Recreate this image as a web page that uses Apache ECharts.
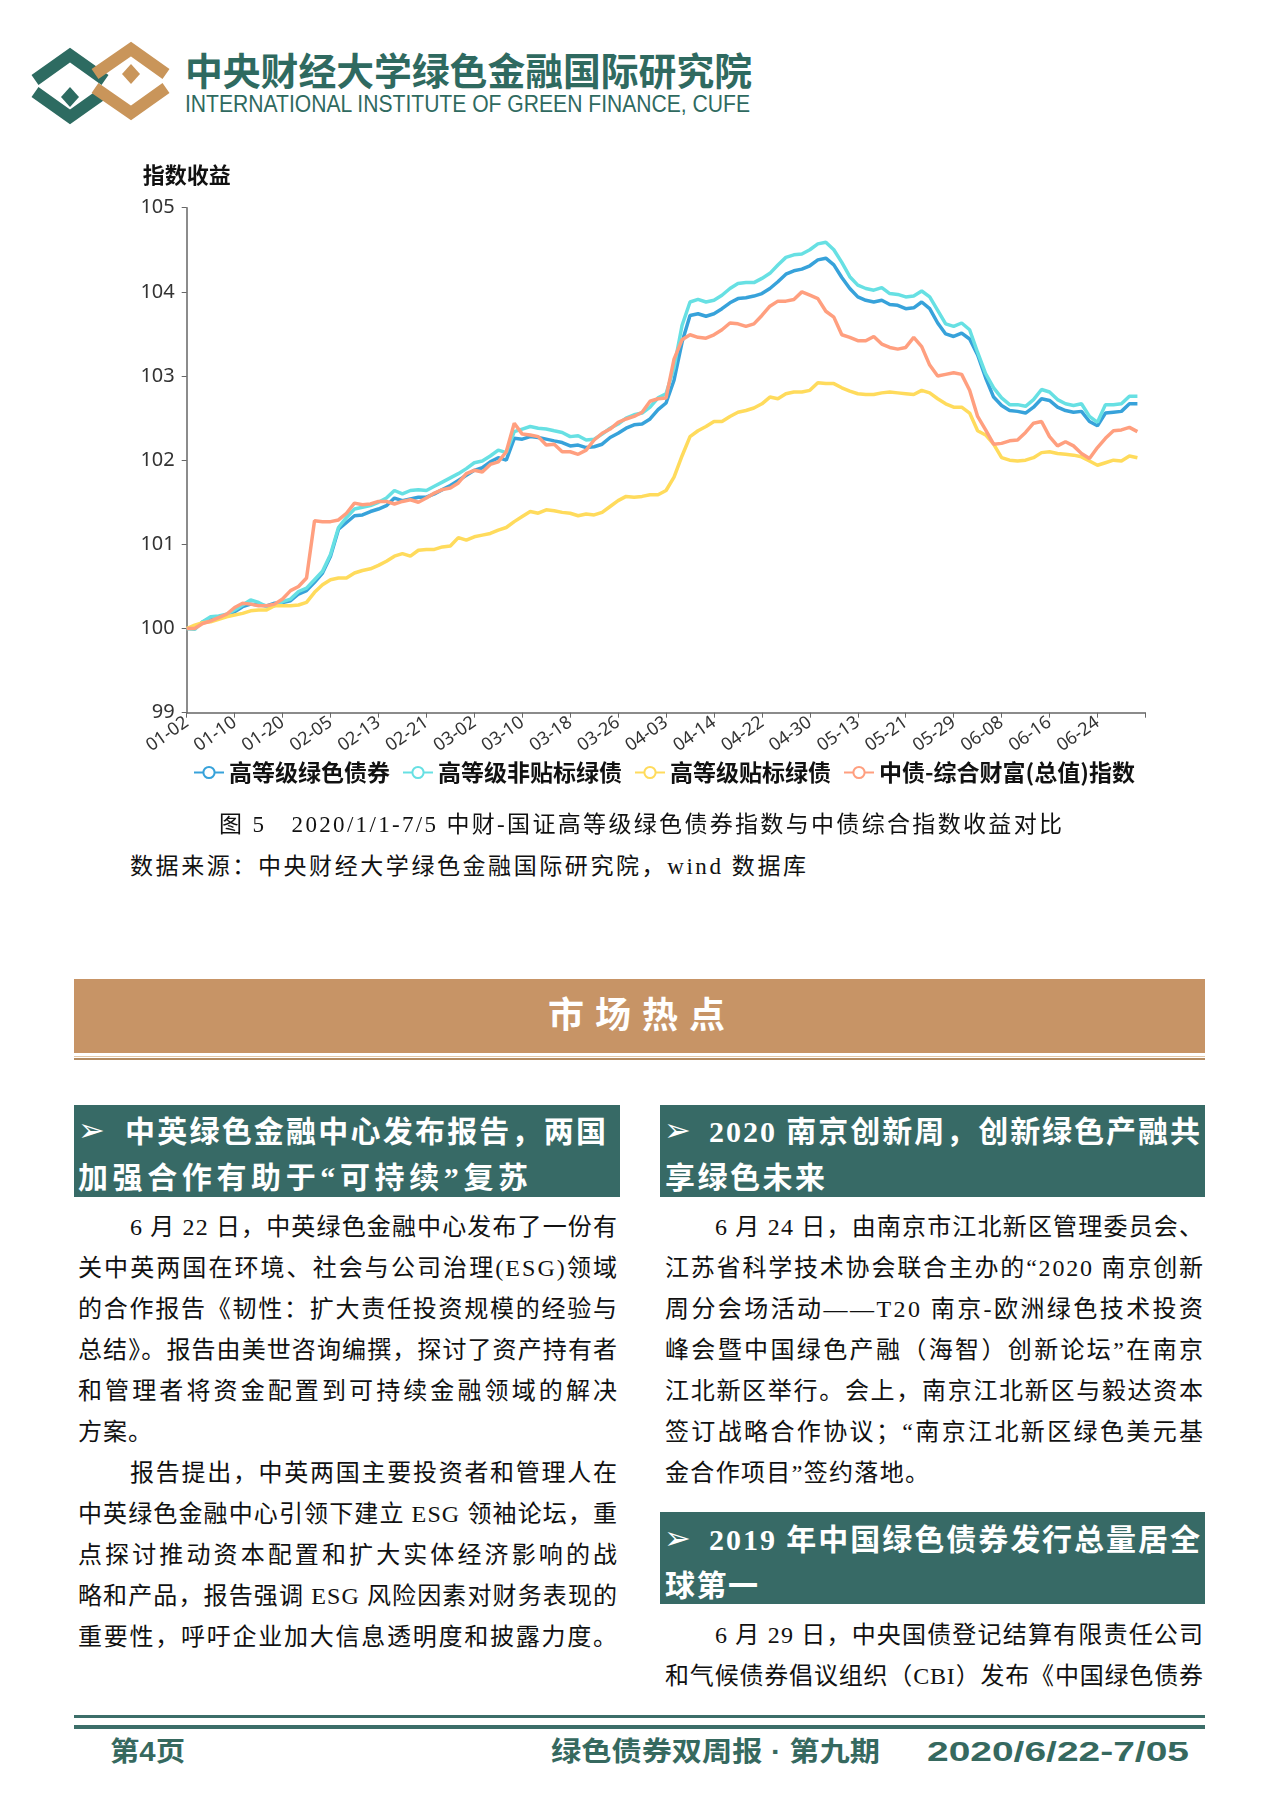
<!DOCTYPE html>
<html><head><meta charset="utf-8">
<script src="https://cdn.jsdelivr.net/npm/echarts@6/dist/echarts.min.js"></script>
<style>
html,body{margin:0;padding:0;background:#fff;}
body{width:1280px;height:1810px;position:relative;overflow:hidden;font-family:"Liberation Serif","Noto Sans CJK SC",serif;}
.a{position:absolute;white-space:nowrap;line-height:1;}
.box{position:absolute;background:#376a66;}
.hl{color:#fff;font-weight:bold;font-size:30px;}
.ar{color:#fff;font-size:32px;font-family:'DejaVu Sans';}
.bl{color:#111;font-size:24px;}
.ft{color:#36695f;font-weight:bold;font-size:27px;font-family:"Liberation Sans","Noto Sans CJK SC",sans-serif;transform-origin:0 50%;}
</style></head>
<body>
<svg class="a" style="left:0;top:0" width="200" height="140" viewBox="0 0 200 140">
  <g fill="none" stroke-width="12" stroke-linejoin="miter">
    <polyline points="35,80 70,55 105,80" stroke="#2d6b61"/>
    <polyline points="95,74 131,49 166,74" stroke="#c9955a"/>
    <polyline points="35,92 70,117 105,92" stroke="#2d6b61"/>
    <polyline points="95,88 131,113 166,88" stroke="#c9955a"/>
  </g>
  <polygon points="131,64 140,74 131,84 122,74" fill="#c9955a"/>
  <polygon points="70,87 79,97 70,107 61,97" fill="#2d6b61"/>
</svg>
<div class="a fit-sx" data-w="567" style="left:185px;top:50px;font-size:38px;font-weight:bold;color:#2f6a60;font-family:'Noto Sans CJK SC';transform-origin:0 50%;">中央财经大学绿色金融国际研究院</div>
<div class="a fit-sx" data-w="565" style="left:185px;top:92px;font-size:24px;color:#2f6a60;font-family:'Liberation Sans Narrow','Liberation Sans';transform-origin:0 50%;">INTERNATIONAL INSTITUTE OF GREEN FINANCE, CUFE</div>

<div id="chart" style="position:absolute;left:0;top:150px;width:1280px;height:670px;"></div>

<div class="a bl fit-ls" data-w="843" style="left:219px;top:813px;font-size:23px;">图 5　2020/1/1-7/5 中财-国证高等级绿色债券指数与中债综合指数收益对比</div>
<div class="a bl fit-ls" data-w="676" style="left:130px;top:855px;font-size:23px;">数据来源：中央财经大学绿色金融国际研究院，wind 数据库</div>

<div class="box" style="left:74px;top:979px;width:1131px;height:74px;background:#c79466;"></div>
<div class="box" style="left:74px;top:1056px;width:1131px;height:1px;background:#e2c8aa;"></div>
<div class="box" style="left:74px;top:1058px;width:1131px;height:2px;background:#b48c62;"></div>
<div class="a fit-ls" data-w="177" style="left:548px;top:994px;font-size:36px;color:#fff;font-weight:bold;font-family:'Noto Sans CJK SC';">市场热点</div>

<!-- left header box -->
<div class="box" style="left:74px;top:1105px;width:546px;height:92px;"></div>
<div class="a ar" style="left:78px;top:1114px;">➢</div>
<div class="a hl fit-ls" data-w="481" style="left:125px;top:1117px;">中英绿色金融中心发布报告，两国</div>
<div class="a hl fit-ls" data-w="450" style="left:78px;top:1163px;">加强合作有助于“可持续”复苏</div>

<!-- right header box -->
<div class="box" style="left:660px;top:1105px;width:545px;height:92px;"></div>
<div class="a ar" style="left:664px;top:1114px;">➢</div>
<div class="a hl fit-ls" data-w="491" style="left:709px;top:1117px;">2020 南京创新周，创新绿色产融共</div>
<div class="a hl fit-ls" data-w="160" style="left:665px;top:1163px;">享绿色未来</div>

<!-- left body -->
<div class="a bl fit-ls" data-w="487" style="left:130px;top:1215px;">6 月 22 日，中英绿色金融中心发布了一份有</div>
<div class="a bl fit-ls" data-w="539" style="left:78px;top:1256px;">关中英两国在环境、社会与公司治理(ESG)领域</div>
<div class="a bl fit-ls" data-w="539" style="left:78px;top:1297px;">的合作报告《韧性：扩大责任投资规模的经验与</div>
<div class="a bl fit-ls" data-w="539" style="left:78px;top:1338px;">总结》。报告由美世咨询编撰，探讨了资产持有者</div>
<div class="a bl fit-ls" data-w="539" style="left:78px;top:1379px;">和管理者将资金配置到可持续金融领域的解决</div>
<div class="a bl fit-ls" data-w="74" style="left:78px;top:1420px;">方案。</div>
<div class="a bl fit-ls" data-w="487" style="left:130px;top:1461px;">报告提出，中英两国主要投资者和管理人在</div>
<div class="a bl fit-ls" data-w="539" style="left:78px;top:1502px;">中英绿色金融中心引领下建立 ESG 领袖论坛，重</div>
<div class="a bl fit-ls" data-w="539" style="left:78px;top:1543px;">点探讨推动资本配置和扩大实体经济影响的战</div>
<div class="a bl fit-ls" data-w="539" style="left:78px;top:1584px;">略和产品，报告强调 ESG 风险因素对财务表现的</div>
<div class="a bl fit-ls" data-w="539" style="left:78px;top:1625px;">重要性，呼吁企业加大信息透明度和披露力度。</div>

<!-- right body -->
<div class="a bl fit-ls" data-w="488" style="left:715px;top:1215px;">6 月 24 日，由南京市江北新区管理委员会、</div>
<div class="a bl fit-ls" data-w="538" style="left:665px;top:1256px;">江苏省科学技术协会联合主办的“2020 南京创新</div>
<div class="a bl fit-ls" data-w="538" style="left:665px;top:1297px;">周分会场活动——T20 南京-欧洲绿色技术投资</div>
<div class="a bl fit-ls" data-w="538" style="left:665px;top:1338px;">峰会暨中国绿色产融（海智）创新论坛”在南京</div>
<div class="a bl fit-ls" data-w="538" style="left:665px;top:1379px;">江北新区举行。会上，南京江北新区与毅达资本</div>
<div class="a bl fit-ls" data-w="538" style="left:665px;top:1420px;">签订战略合作协议；“南京江北新区绿色美元基</div>
<div class="a bl fit-ls" data-w="264" style="left:665px;top:1461px;">金合作项目”签约落地。</div>

<div class="box" style="left:660px;top:1512px;width:545px;height:92px;"></div>
<div class="a ar" style="left:664px;top:1522px;">➢</div>
<div class="a hl fit-ls" data-w="491" style="left:709px;top:1525px;">2019 年中国绿色债券发行总量居全</div>
<div class="a hl fit-ls" data-w="93" style="left:665px;top:1571px;">球第一</div>
<div class="a bl fit-ls" data-w="488" style="left:715px;top:1623px;">6 月 29 日，中央国债登记结算有限责任公司</div>
<div class="a bl fit-ls" data-w="538" style="left:665px;top:1664px;">和气候债券倡议组织（CBI）发布《中国绿色债券</div>

<!-- footer -->
<div class="box" style="left:74px;top:1715px;width:1131px;height:3px;background:#3c6e69;"></div>
<div class="box" style="left:74px;top:1725px;width:1131px;height:4px;background:#3c6e69;"></div>
<div class="a ft fit-sx" data-w="75" style="left:110px;top:1739px;">第4页</div>
<div class="a ft fit-sx" data-w="329" style="left:551px;top:1739px;">绿色债券双周报 · 第九期</div>
<div class="a ft fit-sx" data-w="262" style="left:927px;top:1739px;">2020/6/22-7/05</div>

<script>
// ---- data ----
const dates = ['01-02','01-03','01-06','01-07','01-08','01-09','01-10','01-13','01-14','01-15',
'01-16','01-17','01-20','01-21','01-22','01-23','02-03','02-04','02-05','02-06',
'02-07','02-10','02-11','02-12','02-13','02-14','02-17','02-18','02-19','02-20',
'02-21','02-24','02-25','02-26','02-27','02-28','03-02','03-03','03-04','03-05',
'03-06','03-09','03-10','03-11','03-12','03-13','03-16','03-17','03-18','03-19',
'03-20','03-23','03-24','03-25','03-26','03-27','03-30','03-31','04-01','04-02',
'04-03','04-07','04-08','04-09','04-10','04-13','04-14','04-15','04-16','04-17',
'04-20','04-21','04-22','04-23','04-24','04-27','04-28','04-29','04-30','05-06',
'05-07','05-08','05-11','05-12','05-13','05-14','05-15','05-18','05-19','05-20',
'05-21','05-22','05-25','05-26','05-27','05-28','05-29','06-01','06-02','06-03',
'06-04','06-05','06-08','06-09','06-10','06-11','06-12','06-15','06-16','06-17',
'06-18','06-19','06-22','06-23','06-24','06-29','06-30','07-01','07-02','07-03','07-05'];

const seriesNames = ['高等级绿色债券','高等级非贴标绿债','高等级贴标绿债','中债-综合财富(总值)指数'];

const greenBond = [100.00,100.00,100.08,100.11,100.13,100.15,100.20,100.26,100.29,100.28,
100.27,100.30,100.31,100.33,100.41,100.45,100.55,100.66,100.86,101.18,
101.26,101.34,101.35,101.39,101.42,101.46,101.55,101.52,101.54,101.56,
101.56,101.60,101.65,101.70,101.76,101.82,101.88,101.91,101.98,102.03,
102.00,102.26,102.25,102.28,102.27,102.25,102.23,102.21,102.17,102.18,
102.15,102.16,102.19,102.27,102.32,102.38,102.42,102.43,102.49,102.60,
102.68,102.95,103.40,103.72,103.74,103.71,103.74,103.80,103.87,103.92,
103.93,103.95,103.98,104.04,104.12,104.21,104.25,104.27,104.31,104.38,
104.40,104.32,104.17,104.04,103.94,103.90,103.88,103.90,103.85,103.84,
103.80,103.81,103.88,103.80,103.63,103.50,103.47,103.51,103.44,103.25,
102.98,102.75,102.65,102.59,102.58,102.56,102.63,102.73,102.71,102.63,
102.59,102.57,102.58,102.46,102.41,102.56,102.57,102.58,102.67,102.67];

const unlabeled = [100.00,99.99,100.08,100.14,100.15,100.17,100.22,100.28,100.34,100.31,
100.26,100.27,100.32,100.35,100.44,100.48,100.58,100.68,100.88,101.20,
101.32,101.42,101.44,101.46,101.50,101.55,101.64,101.60,101.64,101.65,
101.64,101.69,101.74,101.79,101.84,101.90,101.97,101.99,102.05,102.12,
102.09,102.34,102.37,102.40,102.38,102.37,102.35,102.33,102.28,102.29,
102.24,102.25,102.31,102.38,102.43,102.50,102.54,102.56,102.63,102.74,
102.79,103.10,103.60,103.88,103.91,103.88,103.90,103.96,104.04,104.10,
104.11,104.11,104.16,104.22,104.32,104.41,104.44,104.45,104.50,104.57,
104.59,104.50,104.35,104.18,104.08,104.04,104.02,104.05,103.98,103.97,
103.94,103.95,104.01,103.94,103.78,103.62,103.59,103.63,103.55,103.28,
103.03,102.86,102.74,102.66,102.66,102.64,102.72,102.84,102.81,102.72,
102.67,102.65,102.67,102.52,102.45,102.66,102.66,102.67,102.76,102.76];

const labeled = [100.00,100.04,100.07,100.08,100.11,100.14,100.16,100.18,100.21,100.22,
100.22,100.27,100.27,100.27,100.28,100.31,100.43,100.52,100.58,100.60,
100.60,100.66,100.69,100.71,100.75,100.80,100.86,100.89,100.86,100.93,
100.94,100.94,100.97,100.98,101.08,101.05,101.09,101.11,101.13,101.17,
101.20,101.27,101.33,101.39,101.37,101.41,101.40,101.38,101.37,101.34,
101.36,101.35,101.38,101.45,101.52,101.57,101.56,101.57,101.59,101.59,
101.64,101.80,102.05,102.28,102.35,102.40,102.46,102.46,102.52,102.57,
102.59,102.62,102.67,102.75,102.73,102.79,102.81,102.81,102.83,102.92,
102.91,102.91,102.86,102.82,102.79,102.78,102.78,102.80,102.81,102.80,
102.79,102.78,102.83,102.80,102.73,102.67,102.63,102.63,102.56,102.35,
102.30,102.19,102.03,102.00,101.99,102.00,102.03,102.09,102.10,102.08,
102.07,102.06,102.04,101.99,101.94,101.97,102.00,101.99,102.05,102.03];

const chinaBond = [100.00,100.00,100.06,100.09,100.13,100.17,100.25,100.30,100.29,100.27,
100.27,100.29,100.35,100.45,100.50,100.60,101.28,101.27,101.27,101.29,
101.37,101.49,101.47,101.48,101.51,101.51,101.48,101.51,101.53,101.50,
101.55,101.61,101.65,101.67,101.73,101.84,101.88,101.86,101.95,101.98,
102.10,102.44,102.31,102.30,102.28,102.18,102.19,102.10,102.10,102.07,
102.12,102.24,102.32,102.37,102.45,102.49,102.52,102.57,102.70,102.73,
102.74,103.20,103.43,103.49,103.46,103.45,103.49,103.55,103.63,103.62,
103.59,103.62,103.72,103.83,103.89,103.89,103.91,104.00,103.96,103.92,
103.77,103.70,103.49,103.46,103.42,103.42,103.47,103.38,103.34,103.32,
103.34,103.46,103.35,103.13,103.00,103.02,103.04,103.02,102.83,102.52,
102.36,102.19,102.20,102.23,102.24,102.33,102.44,102.46,102.28,102.17,
102.22,102.17,102.08,102.02,102.15,102.26,102.35,102.36,102.39,102.34];

const colors = ['#37A2DA','#67E0E3','#FFDB5C','#FF9F7F'];
const values = [greenBond, unlabeled, labeled, chinaBond];

const chart = echarts.init(document.getElementById('chart'), null, {renderer:'canvas'});
chart.setOption({
  animation:false,
  color: colors,
  grid:{left:186.7, right:134.6, top:57.7, bottom:107.3},
  legend:{
    left:188, top:606, itemWidth:30, itemHeight:14, itemGap:12,
    textStyle:{fontSize:23, fontWeight:'bold', color:'#111', fontFamily:'Noto Sans CJK SC'},
    data: seriesNames
  },
  xAxis:{
    type:'category', data:dates, boundaryGap:false,
    axisLine:{lineStyle:{color:'#666', width:1.5}},
    axisTick:{interval:5, length:5, lineStyle:{color:'#666'}},
    axisLabel:{interval:(i)=> i%6===0 && i<120, rotate:35, fontSize:18, color:'#333', margin:8, fontFamily:'Noto Sans'}
  },
  yAxis:{
    type:'value', min:99, max:105, interval:1,
    name:'指数收益', nameLocation:'end', nameGap:22,
    nameTextStyle:{fontSize:22, fontWeight:'bold', color:'#111', fontFamily:'Noto Sans CJK SC', align:'center'},
    axisLine:{show:true, lineStyle:{color:'#666', width:1.5}},
    axisTick:{show:true, length:5, lineStyle:{color:'#666'}},
    splitLine:{show:false},
    axisLabel:{fontSize:20, color:'#333', margin:12, fontFamily:'Noto Sans'}
  },
  series: seriesNames.map((n,k)=>({
    name:n, type:'line', data:values[k], showSymbol:false, symbol:'emptyCircle', symbolSize:8,
    lineStyle:{width:3.5, color:colors[k]}, itemStyle:{color:colors[k]}
  }))
});

function fitAll(){
  document.querySelectorAll('.fit-ls').forEach(el=>{
    el.style.letterSpacing='0px';
    const nat = el.getBoundingClientRect().width;
    const n = [...el.textContent].length;
    if(n>1) el.style.letterSpacing = ((+el.dataset.w - nat)/(n-1))+'px';
  });
  document.querySelectorAll('.fit-sx').forEach(el=>{
    el.style.transform='none';
    const nat = el.getBoundingClientRect().width;
    el.style.transform = 'scaleX('+(+el.dataset.w/nat)+')';
  });
}
fitAll();
if(document.fonts && document.fonts.ready) document.fonts.ready.then(fitAll);
</script>
</body></html>
